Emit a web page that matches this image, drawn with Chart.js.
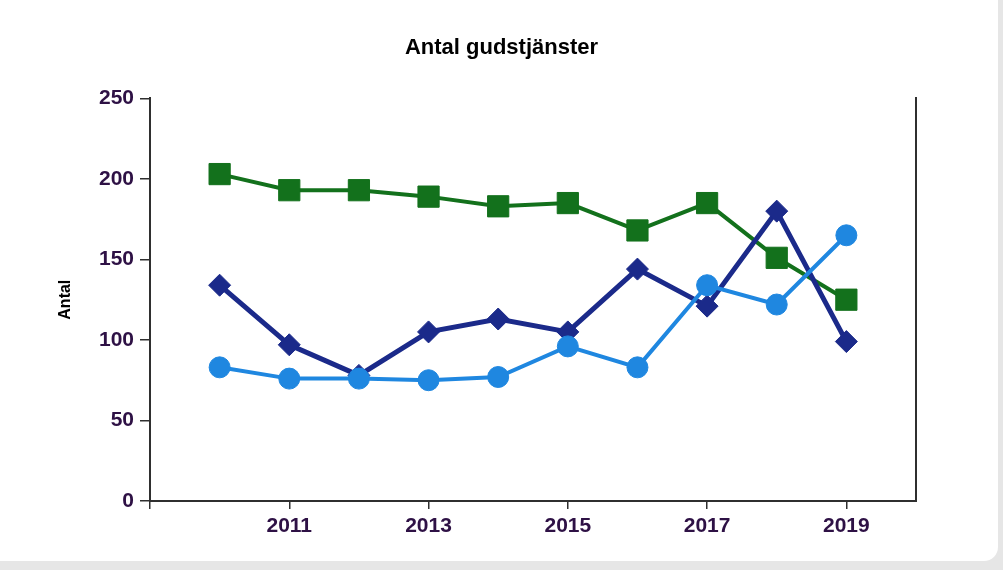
<!DOCTYPE html>
<html><head><meta charset="utf-8">
<script src="https://cdn.jsdelivr.net/npm/chart.js@4.4.1/dist/chart.umd.min.js"></script>
<style>
html,body{margin:0;padding:0;background:#e6e6e6;width:1003px;height:570px;overflow:hidden}
#card{position:absolute;left:0;top:0;width:998px;height:561px;background:#fff;border-bottom-right-radius:14px;}
#wrap{position:absolute;left:0;top:0;width:1003px;height:570px}
</style></head><body>
<div id="card"></div>
<div id="wrap"><canvas id="c"></canvas></div>
<script>
const years = [2010, 2011, 2012, 2013, 2014, 2015, 2016, 2017, 2018, 2019];
const seriesGreen = [203, 193, 193, 189, 183, 185, 168, 185, 151, 125];
const seriesDarkBlue = [134, 97, 78, 105, 113, 105, 144, 121, 180, 99];
const seriesLightBlue = [83, 76, 76, 75, 77, 96, 83, 134, 122, 165];
const xTickYears = [2009, 2011, 2013, 2015, 2017, 2019];
const xLabelYears = [2011, 2013, 2015, 2017, 2019];
const yTicks = [0, 50, 100, 150, 200, 250];
const titleText = 'Antal gudstjänster';
const yTitle = 'Antal';

const toXY = arr => arr.map((v, i) => ({x: years[i], y: v}));
const sans = '"Liberation Sans", Arial, sans-serif';
const axisCol = '#2f2f2f';
const labelCol = '#2e1145';

new Chart(document.getElementById('c'), {
  type: 'line',
  data: {
    datasets: [
      {label: 'A', data: toXY(seriesGreen), borderColor: '#13711c', backgroundColor: '#13711c',
       borderWidth: 4, pointStyle: 'rect', pointRadius: 15, pointBorderWidth: 1, tension: 0, order: 3},
      {label: 'B', data: toXY(seriesDarkBlue), borderColor: '#1b2a8a', backgroundColor: '#1b2a8a',
       borderWidth: 5, pointStyle: 'rectRot', pointRadius: 11, pointBorderWidth: 1, tension: 0, order: 2},
      {label: 'C', data: toXY(seriesLightBlue), borderColor: '#1f87e0', backgroundColor: '#1f87e0',
       borderWidth: 4, pointStyle: 'circle', pointRadius: 10.5, pointBorderWidth: 1, tension: 0, order: 1}
    ]
  },
  options: {
    responsive: true,
    maintainAspectRatio: false,
    animation: false,
    layout: {padding: 0},
    plugins: {
      legend: {display: false},
      tooltip: {enabled: false},
      title: {display: true, text: titleText, color: '#000',
        font: {family: sans, size: 22, weight: 'bold'}, padding: {top: 35, bottom: 37}}
    },
    scales: {
      x: {
        type: 'linear', min: 2009, max: 2020,
        afterBuildTicks: s => { s.ticks = xTickYears.map(v => ({value: v})); },
        afterFit: s => { s.height = 69; },
        ticks: {autoSkip: false, maxRotation: 0, padding: 5, color: labelCol,
          font: {family: sans, size: 21, weight: 'bold'},
          callback: v => xLabelYears.includes(v) ? String(v) : ''},
        grid: {drawOnChartArea: false, drawTicks: true, tickLength: 8, color: axisCol, lineWidth: 1.5},
        border: {display: true, color: axisCol, width: 2}
      },
      y: {
        min: 0, max: 250,
        afterBuildTicks: s => { s.ticks = yTicks.map(v => ({value: v})); },
        afterFit: s => { s.width = 150; },
        ticks: {padding: 6, color: labelCol, font: {family: sans, size: 21, weight: 'bold'}},
        grid: {drawOnChartArea: false, drawTicks: true, tickLength: 10, color: axisCol, lineWidth: 1.5},
        border: {display: true, color: axisCol, width: 2},
        title: {display: true, text: yTitle, color: '#000', font: {family: sans, size: 16, weight: 'bold'},
          padding: {top: 56, bottom: 0}}
      },
      y2: {
        position: 'right', min: 0, max: 250,
        afterFit: s => { s.width = 87; },
        ticks: {display: false},
        grid: {display: true, drawOnChartArea: false, drawTicks: false},
        border: {display: true, color: axisCol, width: 2}
      }
    }
  }
});
</script>
</body></html>
